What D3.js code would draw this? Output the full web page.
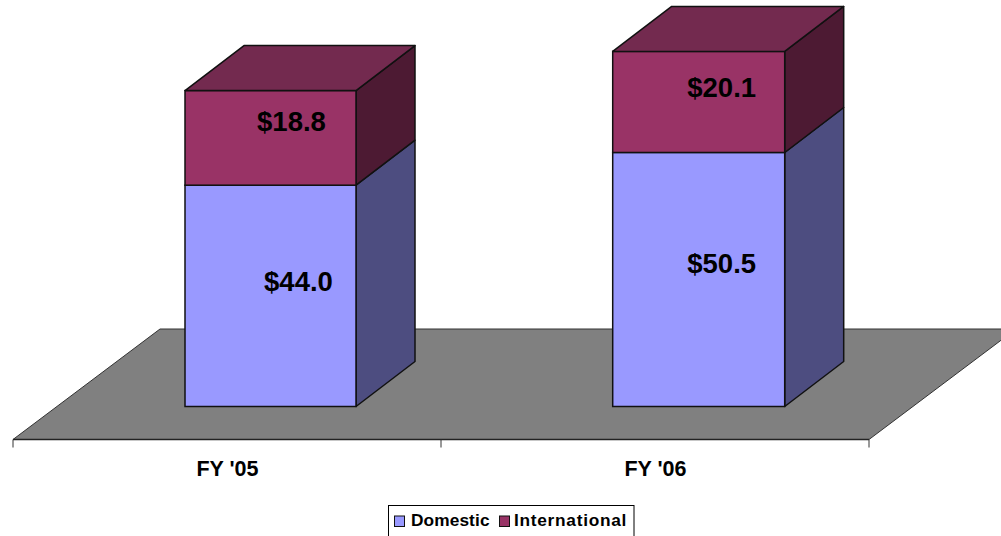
<!DOCTYPE html>
<html><head><meta charset="utf-8">
<script src="https://cdn.jsdelivr.net/npm/d3@7"></script>
<style>html,body{margin:0;padding:0;background:#fff;overflow:hidden}svg{display:block}
text{font-family:"Liberation Sans",Arial,sans-serif;font-weight:bold;fill:#000}</style>
</head><body><svg id="c" width="1001" height="536"></svg>
<script>
const categories = ["FY '05", "FY '06"];
const seriesNames = ["Domestic", "International"];
const domestic = [44.0, 50.5];
const international = [18.8, 20.1];

const frontColors = {Domestic:"#9999ff", International:"#993366"};
const sideColors = {Domestic:"#4d4d80", International:"#4d1a33"};
const topColor = "#732a4f";
const stroke = "#111";
const depthX = 59, depthY = 45;

const svg = d3.select("#c");
const x = d3.scaleBand().domain(categories).range([13, 869]);
const y = d3.scaleLinear().domain([0, 80]).range([406.5, 4.1]);
const barLeft = [185, 612.7], barWidths = [171, 172];

// floor
const fy = 439.5, by = 329, bx = 147;
const poly = pts => pts.map(p => p.join(",")).join(" ");
svg.append("polygon").attr("points", poly([[13,fy],[13+bx,by],[869+bx,by],[869,fy]]))
  .attr("fill","#808080");
svg.append("path").attr("d",`M13,${fy}L${13+bx},${by}L${869+bx},${by}L869,${fy}`)
  .attr("fill","none").attr("stroke","#333").attr("stroke-width",1);

// axis
const axisScale = d3.scalePoint().domain([0,1,2]).range([13,869]);
const ax = svg.append("g").attr("transform",`translate(0,${fy})`);
ax.append("line").attr("x1",13).attr("x2",869).attr("stroke","#222").attr("stroke-width",1.5);
ax.selectAll("line.t").data(axisScale.domain()).join("line").attr("class","t")
  .attr("x1",d=>axisScale(d)).attr("x2",d=>axisScale(d)).attr("y1",0).attr("y2",8)
  .attr("stroke","#333").attr("stroke-width",1);
svg.selectAll("text.cat").data(categories).join("text").attr("class","cat")
  .attr("x",d=>x(d)+x.bandwidth()/2+0.5).attr("y",476).attr("text-anchor","middle")
  .attr("font-size",21.5).text(d=>d);

// bars
const labelDx = [[28,21],[23,23]];
const labelDy = [[-4.5,-6.5],[-6.5,-4.5]];
categories.forEach((c,i) => {
  const l = barLeft[i], barW = barWidths[i], r = l + barW;
  let base = 0;
  const segs = [["Domestic",domestic[i]],["International",international[i]]];
  const g = svg.append("g");
  segs.forEach(([name,v],k) => {
    const y0 = y(base), y1 = y(base+v);
    g.append("polygon").attr("points",poly([[r,y0],[r+depthX,y0-depthY],[r+depthX,y1-depthY],[r,y1]]))
      .attr("fill",sideColors[name]).attr("stroke",stroke).attr("stroke-width",1.5).attr("stroke-linejoin","round");
    g.append("rect").attr("x",l).attr("y",y1).attr("width",barW).attr("height",y0-y1)
      .attr("fill",frontColors[name]).attr("stroke",stroke).attr("stroke-width",1.5);
    if (k===1) g.append("polygon").attr("points",poly([[l,y1],[l+depthX,y1-depthY],[r+depthX,y1-depthY],[r,y1]]))
      .attr("fill",topColor).attr("stroke",stroke).attr("stroke-width",1.5).attr("stroke-linejoin","round");
    g.append("text").attr("x",l+barW/2+labelDx[i][k]).attr("y",(y0+y1)/2+labelDy[i][k])
      .attr("text-anchor","middle").attr("font-size",27.5).text("$"+v.toFixed(1));
    base += v;
  });
});

// legend
svg.append("rect").attr("x",388.5).attr("y",505.5).attr("width",245.5).attr("height",40)
  .attr("fill","#fff").attr("stroke","#000").attr("stroke-width",1);
const lx = [394.5, 499.5], tx = [411, 514], ls = [0.1, 0.72];
seriesNames.forEach((n,i)=>{
  svg.append("rect").attr("x",lx[i]).attr("y",516).attr("width",10).attr("height",10.5)
    .attr("fill",frontColors[n]).attr("stroke","#111").attr("stroke-width",1);
  svg.append("text").attr("x",tx[i]).attr("y",526).attr("font-size",17.3)
    .attr("letter-spacing",ls[i]).text(n);
});
</script></body></html>
